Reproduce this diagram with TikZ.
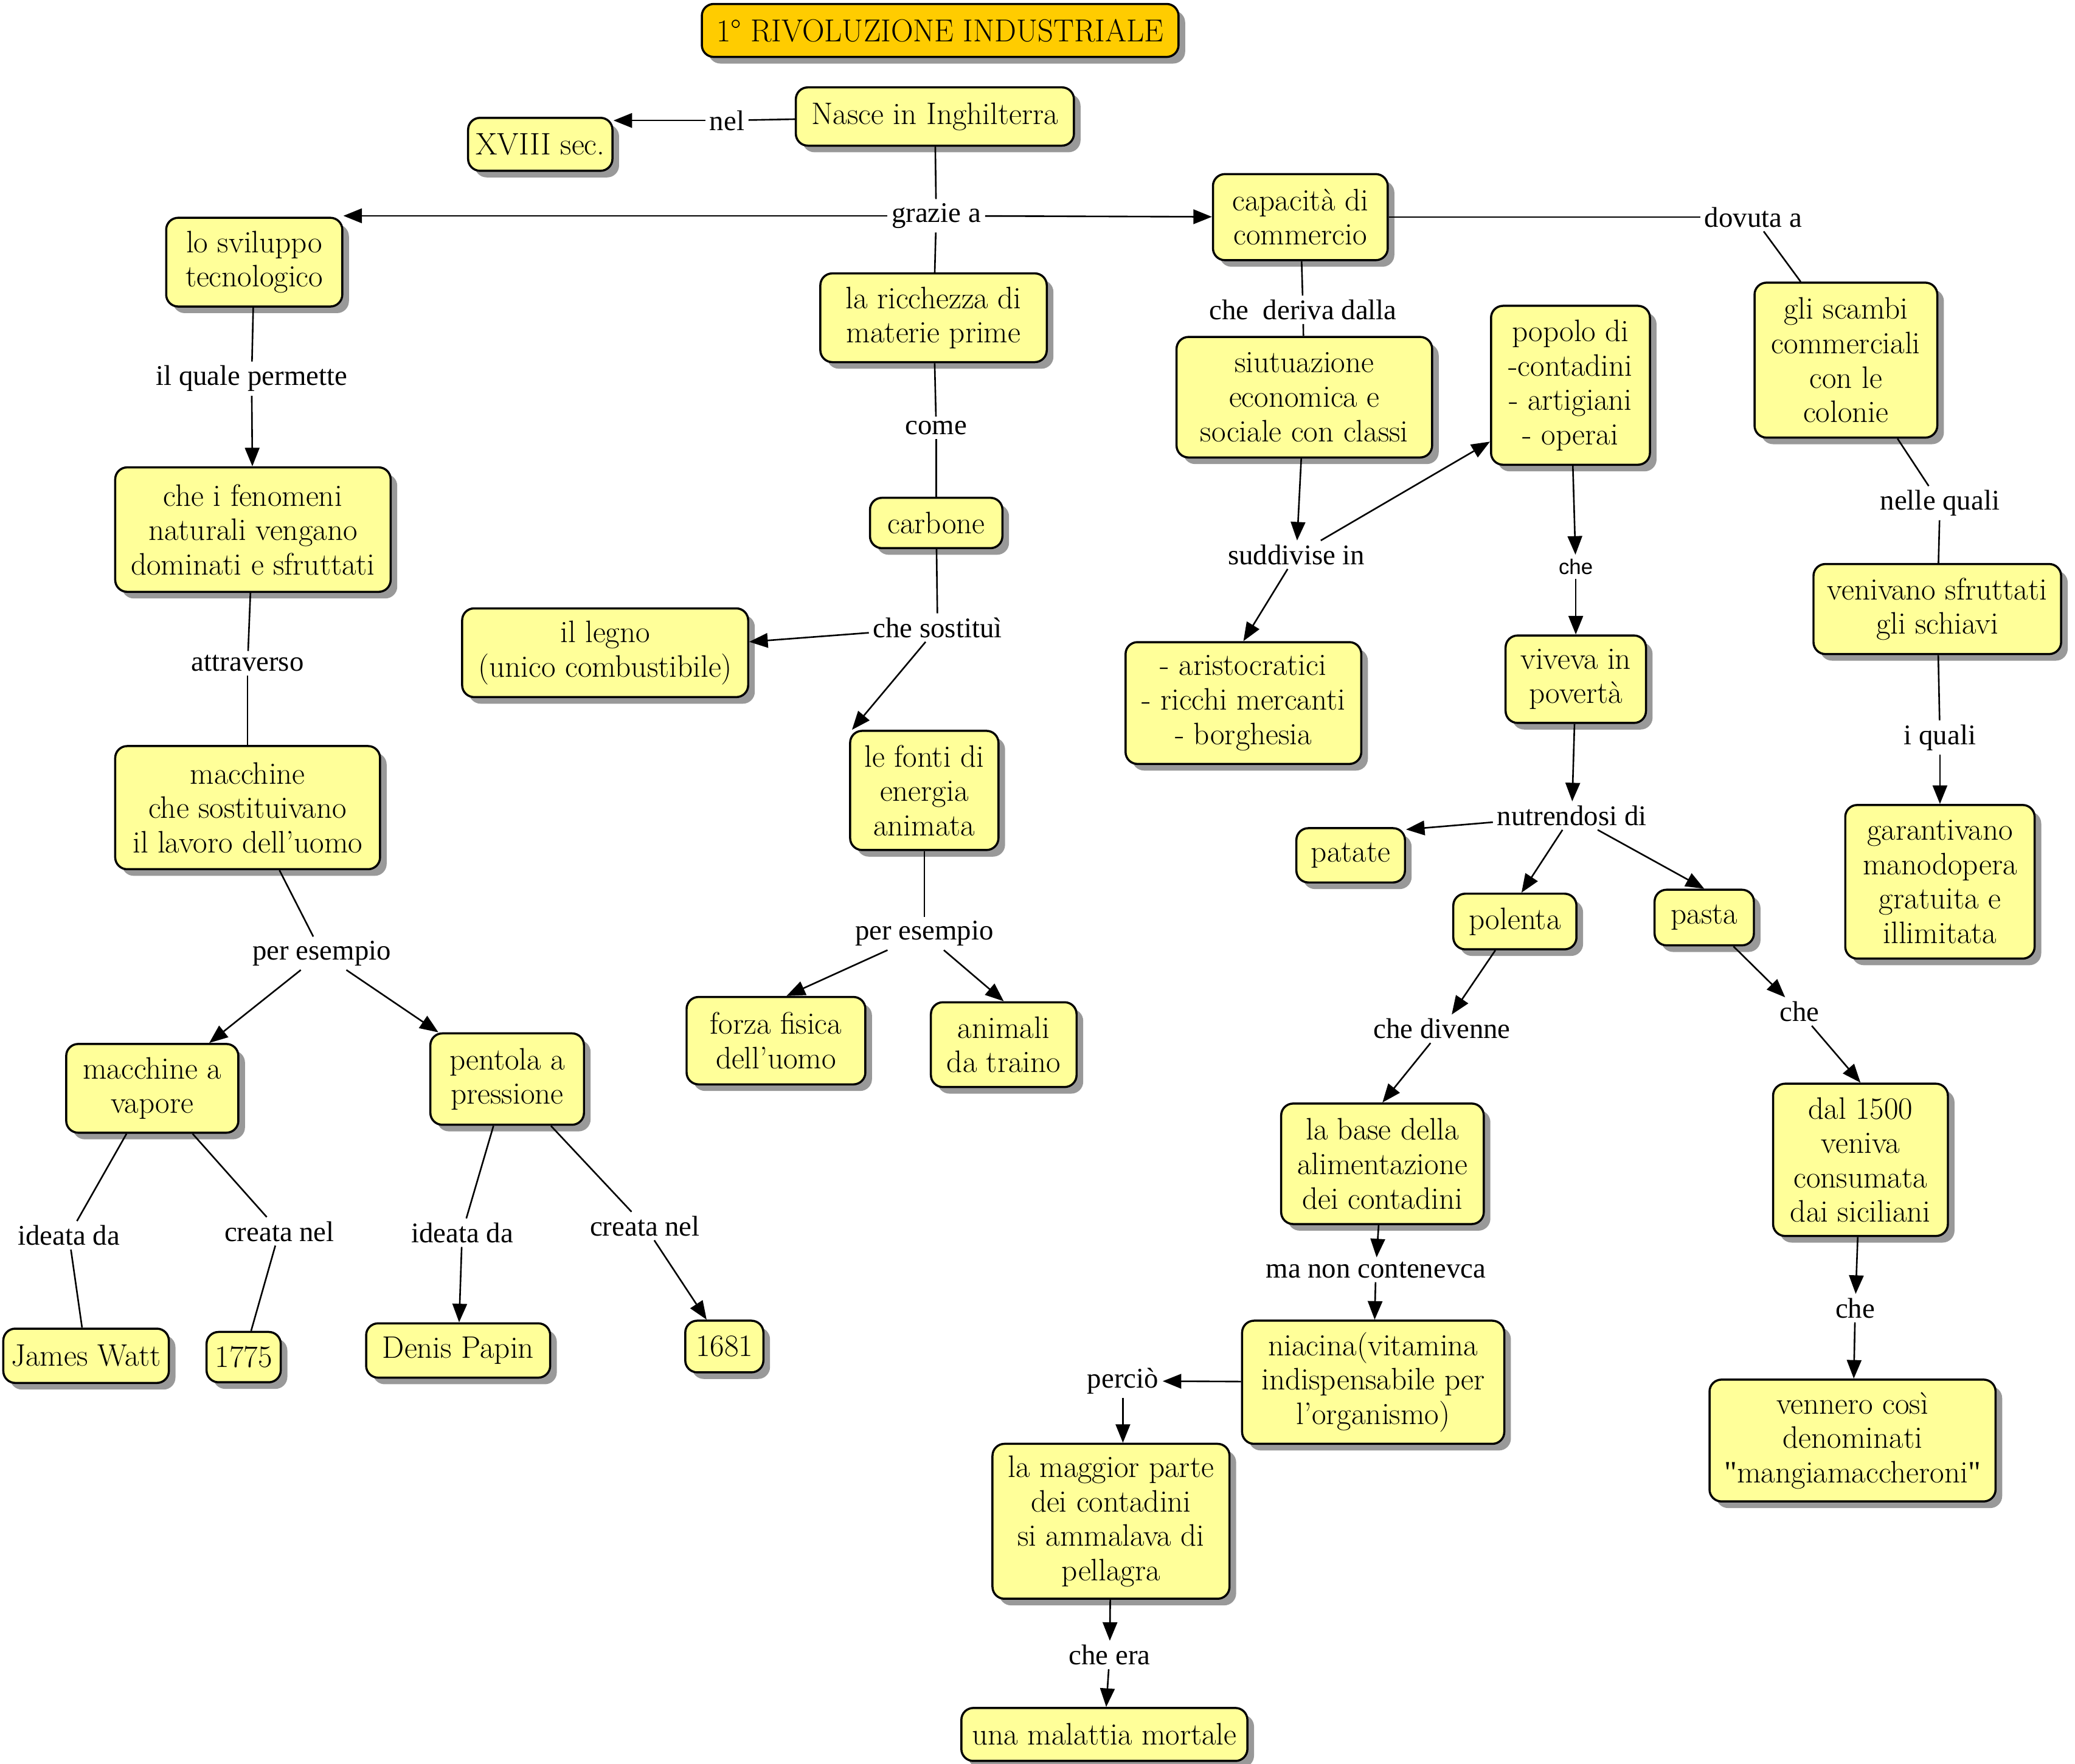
\documentclass[tikz,border=0pt]{standalone}
\usepackage{fontspec}
\newfontfamily\linkfont{Liberation Serif}
\newfontfamily\smallsans{Liberation Sans}
\usetikzlibrary{arrows.meta, shadows}

\definecolor{boxyellow}{HTML}{FFFF99}
\definecolor{titleorange}{HTML}{FFCC00}

\tikzset{
  concept/.style={draw, line width=1.6pt, rounded corners=9pt, fill=boxyellow, align=center,
    font=\fontsize{23.5}{26}\selectfont, inner sep=3pt,
    drop shadow={shadow xshift=5pt, shadow yshift=-5pt, fill=black!40, opacity=1}},
  linklabel/.style={font=\linkfont\fontsize{21.5}{24}\selectfont, inner sep=3pt},
  link/.style={line width=1.2pt},
  arr/.style={line width=1.2pt, -{Triangle[length=14pt,width=11pt]}}
}

\begin{document}
\begin{tikzpicture}[x=1pt, y=-1pt]
\useasboundingbox (0,0) rectangle (1567,1332);

% title
\node (titolo) [concept, fill=titleorange, minimum width=360, minimum height=40] at (710,23)
  {\scalebox{0.97}[1]{\fontsize{24}{28}\selectfont 1° RIVOLUZIONE INDUSTRIALE}};

% concepts
\node (nasce) [concept, minimum width=210, minimum height=44] at (706,88) {Nasce in Inghilterra};
\node (xviii) [concept, minimum width=109, minimum height=40] at (408,109) {XVIII sec.};
\node (sviluppo) [concept, minimum width=133, minimum height=67] at (192,198) {lo sviluppo\\tecnologico};
\node (ricchezza) [concept, minimum width=171, minimum height=67] at (705,240) {la ricchezza di\\materie prime};
\node (capacita) [concept, minimum width=132, minimum height=65] at (982,164) {capacità di\\commercio};
\node (situazione) [concept, minimum width=193, minimum height=91] at (985,300) {siutuazione\\economica e\\sociale con classi};
\node (popolo) [concept, minimum width=120, minimum height=120] at (1186,291) {popolo di\\-contadini\\- artigiani\\- operai};
\node (scambi) [concept, minimum width=138, minimum height=117] at (1394,272) {gli scambi\\commerciali\\con le\\colonie};
\node (fenomeni) [concept, minimum width=208, minimum height=94] at (191,400) {che i fenomeni\\naturali vengano\\dominati e sfruttati};
\node (carbone) [concept, minimum width=100, minimum height=38] at (707,395) {carbone};
\node (legno) [concept, minimum width=216, minimum height=67] at (457,493) {il legno\\(unico combustibile)};
\node (fonti) [concept, minimum width=112, minimum height=90] at (698,597) {le fonti di\\energia\\animata};
\node (macchine) [concept, minimum width=200, minimum height=93] at (187,610) {macchine\\che sostituivano\\il lavoro dell'uomo};
\node (classi) [concept, minimum width=178, minimum height=92] at (939,531) {- aristocratici\\- ricchi mercanti\\- borghesia};
\node (poverta) [concept, minimum width=106, minimum height=66] at (1190,513) {viveva in\\povertà};
\node (schiavi) [concept, minimum width=187, minimum height=68] at (1463,460) {venivano sfruttati\\gli schiavi};
\node (manodopera) [concept, minimum width=143, minimum height=116] at (1465,666) {garantivano\\manodopera\\gratuita e\\illimitata};
\node (patate) [concept, minimum width=82, minimum height=41] at (1020,646) {patate};
\node (polenta) [concept, minimum width=93, minimum height=42] at (1144,696) {polenta};
\node (pasta) [concept, minimum width=75, minimum height=42] at (1287,693) {pasta};
\node (vapore) [concept, minimum width=130, minimum height=67] at (115,822) {macchine a\\vapore};
\node (pentola) [concept, minimum width=116, minimum height=69] at (383,815) {pentola a\\pressione};
\node (forza) [concept, minimum width=135, minimum height=66] at (586,786) {forza fisica\\dell'uomo};
\node (animali) [concept, minimum width=110, minimum height=64] at (758,789) {animali\\da traino};
\node (base) [concept, minimum width=153, minimum height=91] at (1044,879) {la base della\\alimentazione\\dei contadini};
\node (siciliani) [concept, minimum width=132, minimum height=115] at (1405,876) {dal 1500\\veniva\\consumata\\dai siciliani};
\node (watt) [concept, minimum width=125, minimum height=41] at (65,1024) {James Watt};
\node (anno1775) [concept, minimum width=56, minimum height=38] at (184,1025) {1775};
\node (papin) [concept, minimum width=139, minimum height=41] at (346,1020) {Denis Papin};
\node (anno1681) [concept, minimum width=59, minimum height=39] at (547,1017) {1681};
\node (niacina) [concept, minimum width=198, minimum height=93] at (1037,1044) {niacina(vitamina\\indispensabile per\\l'organismo)};
\node (mangia) [concept, minimum width=216, minimum height=92] at (1399,1088) {vennero così\\denominati\\{\linkfont"}mangiamaccheroni{\linkfont"}};
\node (pellagra) [concept, minimum width=179, minimum height=117] at (839,1149) {la maggior parte\\dei contadini\\si ammalava di\\pellagra};
\node (mortale) [concept, minimum width=216, minimum height=40] at (834,1310) {una malattia mortale};

% linking phrases
\node (nel) [linklabel] at (549,91) {nel};
\node (grazie) [linklabel] at (707,163) {grazie a};
\node (dovuta) [linklabel] at (1324,164) {dovuta a};
\node (deriva) [linklabel] at (984,234) {che~ deriva dalla};
\node (permette) [linklabel] at (190,286) {il quale permette};
\node (come) [linklabel] at (707,323) {come};
\node (sostitui) [linklabel] at (708,474) {che sostituì};
\node (attraverso) [linklabel] at (187,501) {attraverso};
\node (esempioA) [linklabel] at (243,720) {per esempio};
\node (esempioB) [linklabel] at (698,705) {per esempio};
\node (suddivise) [linklabel] at (979,419) {suddivise in};
\node (cheA) [linklabel, font=\smallsans\fontsize{16}{19}\selectfont] at (1190,428) {che};
\node (nutrendosi) [linklabel] at (1187,616) {nutrendosi di};
\node (divenne) [linklabel] at (1089,777) {che divenne};
\node (conteneva) [linklabel] at (1039,959) {ma non contenevca};
\node (percio) [linklabel] at (848,1043) {perciò};
\node (chera) [linklabel] at (838,1250) {che era};
\node (cheB) [linklabel] at (1359,764) {che};
\node (cheC) [linklabel] at (1401,988) {che};
\node (nelle) [linklabel] at (1465,380) {nelle quali};
\node (quali) [linklabel] at (1465,557) {i quali};
\node (ideataA) [linklabel] at (52,933) {ideata da};
\node (creataA) [linklabel] at (211,930) {creata nel};
\node (ideataB) [linklabel] at (349,931) {ideata da};
\node (creataB) [linklabel] at (487,926) {creata nel};

% connectors
\draw[link] (nasce) -- (nel);
\draw[arr] (nel) -- (xviii.east |- nel);
\draw[link] (nasce) -- (grazie);
\draw[arr] (grazie) -- (sviluppo.east |- grazie);
\draw[arr] (grazie) -- (capacita);
\draw[link] (grazie) -- (ricchezza);
\draw[link] (capacita) -- (dovuta);
\draw[link] (dovuta) -- (scambi.120);
\draw[link] (capacita) -- (deriva);
\draw[link] (deriva) -- (situazione);

\draw[link] (sviluppo) -- (permette);
\draw[arr] (permette) -- (fenomeni);
\draw[link] (fenomeni) -- (attraverso);
\draw[link] (attraverso) -- (macchine);
\draw[link] (macchine) -- (esempioA);
\draw[arr] (esempioA) -- (vapore);
\draw[arr] (esempioA) -- (pentola);
\draw[link] (vapore) -- (ideataA);
\draw[link] (ideataA) -- (watt);
\draw[link] (vapore) -- (creataA);
\draw[link] (creataA) -- (anno1775);
\draw[link] (pentola) -- (ideataB);
\draw[arr] (ideataB) -- (papin);
\draw[link] (pentola) -- (creataB);
\draw[arr] (creataB) -- (anno1681);

\draw[link] (ricchezza) -- (come);
\draw[link] (come) -- (carbone);
\draw[link] (carbone) -- (sostitui);
\draw[arr] (sostitui) -- (legno);
\draw[arr] (sostitui) -- (fonti.140);
\draw[link] (fonti) -- (esempioB);
\draw[arr] (esempioB) -- ([xshift=8pt]forza.north);
\draw[arr] (esempioB) -- (animali.north);

\draw[arr] (situazione) -- (suddivise);
\draw[arr] (suddivise) -- (classi.north);
\draw[arr] (suddivise) -- (popolo.215);
\draw[arr] (popolo) -- (cheA);
\draw[arr] (cheA) -- (poverta);
\draw[arr] (poverta) -- (nutrendosi);
\draw[arr] (nutrendosi) -- (patate.25);
\draw[arr] (nutrendosi) -- ([xshift=5pt]polenta.north);
\draw[arr] (nutrendosi) -- (pasta.north);
\draw[arr] (polenta) -- (divenne);
\draw[arr] (divenne) -- (base.north);
\draw[arr] (base) -- (conteneva);
\draw[arr] (conteneva) -- (niacina);
\draw[arr] (niacina) -- (percio);
\draw[arr] (percio) -- (percio |- pellagra.north);
\draw[arr] (pellagra) -- (chera);
\draw[arr] (chera) -- (mortale);
\draw[arr] (pasta) -- (cheB);
\draw[arr] (cheB) -- (siciliani.north);
\draw[arr] (siciliani) -- (cheC);
\draw[arr] (cheC) -- (mangia);

\draw[link] (scambi) -- (nelle);
\draw[link] (nelle) -- (schiavi);
\draw[link] (schiavi) -- (quali);
\draw[arr] (quali) -- (manodopera);
\end{tikzpicture}
\end{document}
